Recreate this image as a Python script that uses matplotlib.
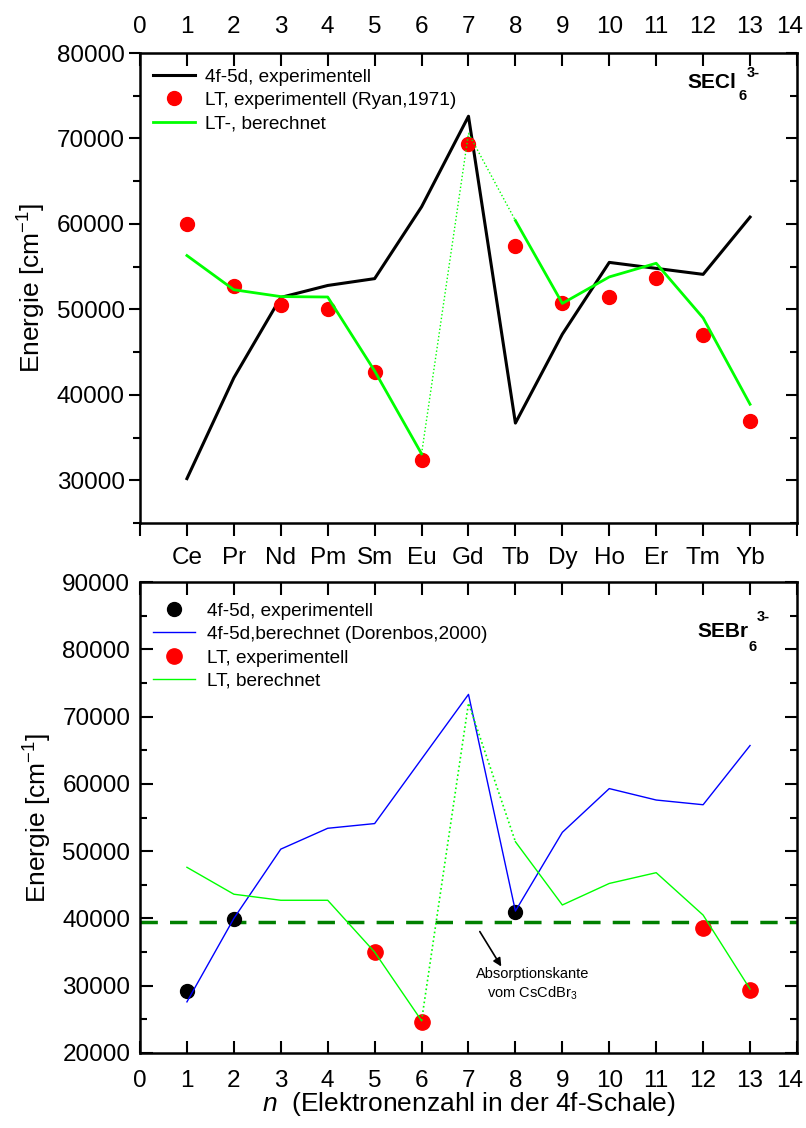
import numpy as np
import matplotlib
matplotlib.use('Agg')
import matplotlib.pyplot as plt
from matplotlib.ticker import MultipleLocator
from matplotlib.transforms import offset_copy

plt.rcParams['font.family'] = ['Liberation Sans', 'DejaVu Sans']
plt.rcParams['mathtext.fontset'] = 'custom'
plt.rcParams['mathtext.rm'] = 'Liberation Sans'
plt.rcParams['mathtext.bf'] = 'Liberation Sans:bold'
plt.rcParams['mathtext.it'] = 'Liberation Sans:italic'

# data
n = np.arange(1, 14)
elements = ['Ce', 'Pr', 'Nd', 'Pm', 'Sm', 'Eu', 'Gd', 'Tb', 'Dy', 'Ho', 'Er', 'Tm', 'Yb']
n_ticks = list(range(0, 15))

# SECl6 3-
cl_fd_exp = [30200, 42000, 51400, 52800, 53600, 62000, 72600, 36700, 47100, 55500, 54800, 54100, 60800]
cl_lt_exp = [60000, 52700, 50500, 50050, 42650, 32400, 69400, 57450, 50750, 51500, 53650, 47050, 36900]
cl_lt_calc = [56300, 52300, 51500, 51450, 42800, 33100, 70600, 60400, 50700, 53800, 55400, 49000, 38900]

# SEBr6 3-
br_fd_exp_n = [1, 2, 8]
br_fd_exp = [29200, 39900, 41000]
br_fd_calc = [27600, 40000, 50300, 53400, 54100, 63700, 73300, 41100, 52800, 59300, 57600, 56900, 65700]
br_lt_exp_n = [5, 6, 12, 13]
br_lt_exp = [35000, 24600, 38600, 29300]
br_lt_calc = [47600, 43600, 42700, 42700, 35000, 24800, 72000, 51400, 42000, 45200, 46800, 40500, 29500]
absorption_edge = 39500

fig = plt.figure(figsize=(8.06, 11.28), dpi=100)
ax1 = fig.add_axes([0.1737, 0.5363, 0.8151, 0.4167])
ax2 = fig.add_axes([0.1737, 0.0665, 0.8151, 0.4175])

tick_fs = 17.5
green = '#00ff00'

for ax in (ax1, ax2):
    for s in ax.spines.values():
        s.set_linewidth(1.8)
    ax.set_xlim(0, 14)
    ax.yaxis.set_major_locator(MultipleLocator(10000))
    ax.yaxis.set_minor_locator(MultipleLocator(5000))
    ax.set_ylabel('Energie [cm$^{-1}$]', fontsize=19, labelpad=6)

# ---- top panel ----
ax1.plot(n, cl_fd_exp, color='black', lw=2.2, label='4f-5d, experimentell')
ax1.plot(n, cl_lt_exp, 'o', color='red', ms=10, mec='red',
         label='LT, experimentell (Ryan,1971)')
ax1.plot(n[:6], cl_lt_calc[:6], color=green, lw=2, label='LT-, berechnet')
ax1.plot(n[5:8], cl_lt_calc[5:8], color=green, lw=1, ls=':')
ax1.plot(n[7:], cl_lt_calc[7:], color=green, lw=2)
ax1.set_ylim(25000, 80000)
ax1.set_xticks(n_ticks)
ax1.set_xticklabels([''] + elements + [''])
ax1.tick_params(axis='x', which='major', direction='out', length=9, width=1.5,
                labelsize=tick_fs, pad=8)
ax1.tick_params(axis='y', which='major', direction='out', length=8, width=1.5,
                labelsize=tick_fs, right=False, pad=3)
ax1.tick_params(axis='y', which='minor', direction='out', length=5, width=1.5, right=False)
top = ax1.secondary_xaxis('top')
top.set_xticks(n_ticks)
top.set_xticklabels([str(v) for v in n_ticks[:-1]] + [''])
top.tick_params(direction='in', length=9, width=1.5, labelsize=tick_fs, pad=11)
ax1.text(14, 1, str(n_ticks[-1]), fontsize=tick_fs, ha='center', va='bottom',
         transform=offset_copy(ax1.get_xaxis_transform(), fig=fig, x=-5, y=11, units='points'))
right1 = ax1.secondary_yaxis('right')
right1.yaxis.set_major_locator(MultipleLocator(10000))
right1.yaxis.set_minor_locator(MultipleLocator(5000))
right1.tick_params(which='major', direction='in', length=8, width=1.5, labelright=False)
right1.tick_params(which='minor', direction='in', length=5, width=1.5)
ax1.legend(loc='upper left', frameon=False, fontsize=13.7, handlelength=2.2,
           handletextpad=0.5, labelspacing=0.32, borderaxespad=0.3,
           bbox_to_anchor=(0.0, 0.996))
ax1.text(0.834, 0.937, 'SECl', transform=ax1.transAxes, fontsize=15, fontweight='bold',
         ha='left', va='center')
ax1.text(0.917, 0.908, '6', transform=ax1.transAxes, fontsize=10.5, fontweight='bold',
         ha='center', va='center')
ax1.text(0.923, 0.958, '3-', transform=ax1.transAxes, fontsize=10.5, fontweight='bold',
         ha='left', va='center')

# ---- bottom panel ----
ax2.axhline(absorption_edge, color='#008000', lw=2.5, ls=(0, (5, 3.5)))
ax2.plot(br_fd_exp_n, br_fd_exp, 'o', color='black', ms=10, label='4f-5d, experimentell')
ax2.plot(n, br_fd_calc, color='blue', lw=1, label='4f-5d,berechnet (Dorenbos,2000)')
ax2.plot(br_lt_exp_n, br_lt_exp, 'o', color='red', ms=11, label='LT, experimentell')
ax2.plot(n[:6], br_lt_calc[:6], color=green, lw=1, label='LT, berechnet')
ax2.plot(n[5:8], br_lt_calc[5:8], color=green, lw=1.2, ls=':')
ax2.plot(n[7:], br_lt_calc[7:], color=green, lw=1)
ax2.set_ylim(20000, 90000)
ax2.set_xticks(n_ticks)
ax2.set_xticklabels([str(v) for v in n_ticks[:-1]] + [''])
ax2.tick_params(which='major', direction='in', length=9, width=1.5, top=True, right=True,
                labelsize=tick_fs)
ax2.tick_params(axis='x', pad=12)
ax2.tick_params(axis='y', pad=7)
ax2.tick_params(which='minor', direction='in', length=5, width=1.5, right=True, left=True)
ax2.tick_params(axis='x', which='minor', bottom=False, top=False)
ax2.text(14, 0, str(n_ticks[-1]), fontsize=tick_fs, ha='center', va='top',
         transform=offset_copy(ax2.get_xaxis_transform(), fig=fig, x=-5, y=-12, units='points'))
ax2.set_xlabel(r'$\mathit{n}$  (Elektronenzahl in der 4f-Schale)', fontsize=19, labelpad=-1)
ax2.legend(loc='upper left', frameon=False, fontsize=13.7, handlelength=2.2,
           handletextpad=0.6, labelspacing=0.32, borderaxespad=0.3,
           bbox_to_anchor=(0.0, 0.985))
ax2.text(0.849, 0.894, 'SEBr', transform=ax2.transAxes, fontsize=15, fontweight='bold',
         ha='left', va='center')
ax2.text(0.933, 0.863, '6', transform=ax2.transAxes, fontsize=10.5, fontweight='bold',
         ha='center', va='center')
ax2.text(0.938, 0.925, '3-', transform=ax2.transAxes, fontsize=10.5, fontweight='bold',
         ha='left', va='center')
ax2.annotate('', xy=(7.73, 32500), xytext=(7.21, 38400),
             arrowprops=dict(arrowstyle='-|>', color='black', lw=1.2, mutation_scale=12))
ax2.text(8.36, 30200, 'Absorptionskante\nvom CsCdBr$_3$', fontsize=10.5,
         ha='center', va='center', linespacing=1.3)

fig.savefig('out.png', dpi=100)
